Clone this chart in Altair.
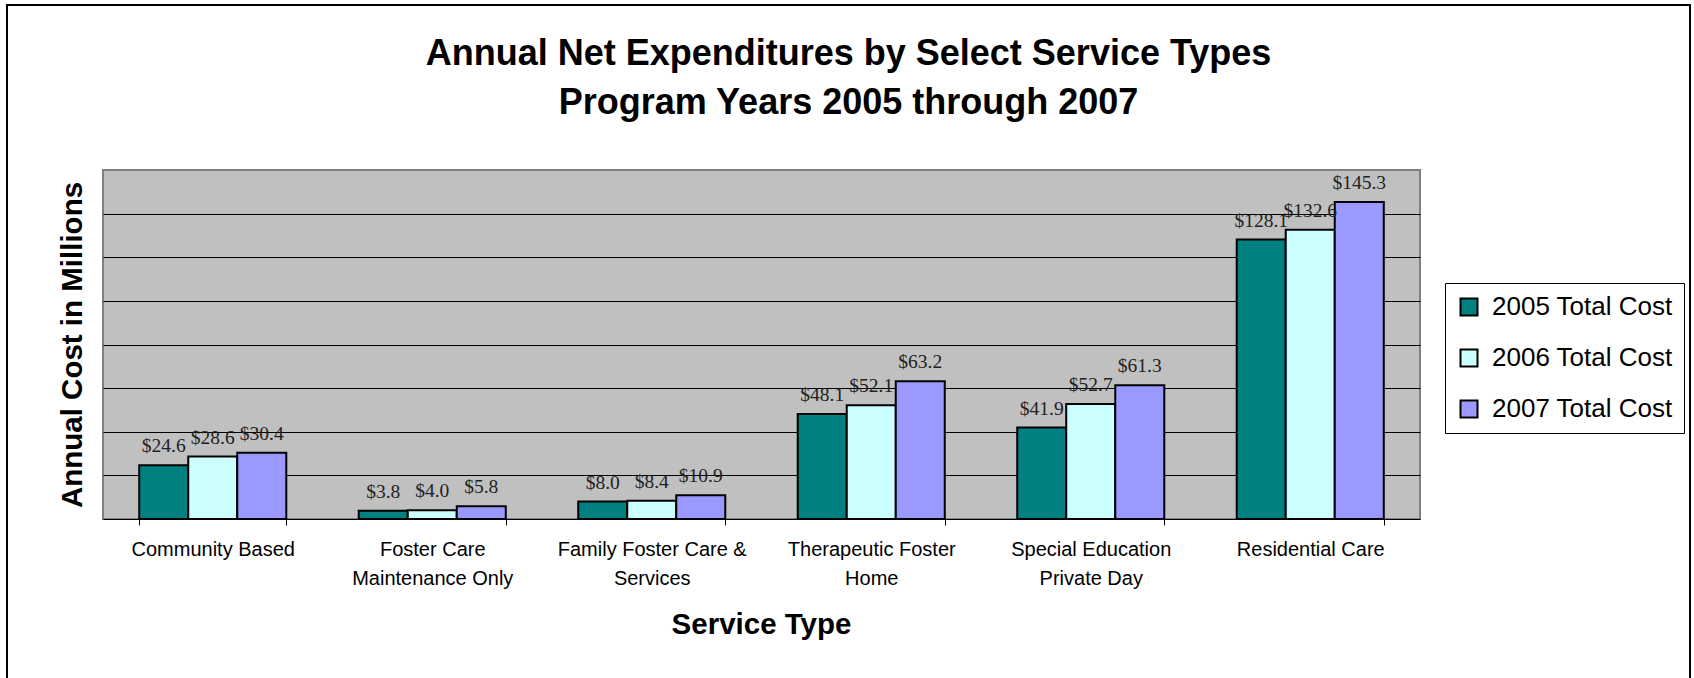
import altair as alt
import pandas as pd

categories = [
    "Community Based",
    "Foster Care|Maintenance Only",
    "Family Foster Care &|Services",
    "Therapeutic Foster|Home",
    "Special Education|Private Day",
    "Residential Care",
]
series_names = ["2005 Total Cost", "2006 Total Cost", "2007 Total Cost"]
values_2005 = [24.6, 3.8, 8.0, 48.1, 41.9, 128.1]
values_2006 = [28.6, 4.0, 8.4, 52.1, 52.7, 132.6]
values_2007 = [30.4, 5.8, 10.9, 63.2, 61.3, 145.3]
colors = ["#008080", "#CCFFFF", "#9999FF"]
grid_values = [20, 40, 60, 80, 100, 120, 140]

rows = []
for s, vals in zip(series_names, [values_2005, values_2006, values_2007]):
    for c, v in zip(categories, vals):
        rows.append({"category": c, "series": s, "value": v})
df = pd.DataFrame(rows)

SANS = "Liberation Sans"

x_enc = alt.X(
    "category:N",
    sort=categories,
    scale=alt.Scale(paddingInner=0.33, paddingOuter=0.165),
    title="Service Type",
    axis=alt.Axis(
        labelAngle=0,
        labelExpr="split(datum.label, '|')",
        labelFont=SANS,
        labelFontSize=20,
        labelColor="black",
        labelLineHeight=29,
        labelBaseline="top",
        labelPadding=14,
        labelLimit=0,
        tickBand="extent",
        tickColor="black",
        tickSize=6,
        domainColor="black",
        domainWidth=1,
        grid=False,
        titleFont=SANS,
        titleFontSize=29.5,
        titleFontWeight="bold",
        titleColor="black",
        titleX=658,
        titleY=105,
        titleAlign="center",
        titleBaseline="middle",
    ),
)
xoff = alt.XOffset("series:N", sort=series_names)
y_enc = alt.Y(
    "value:Q",
    scale=alt.Scale(domain=[0, 160], nice=False),
    title="Annual Cost in Millions",
    axis=alt.Axis(
        labels=False,
        ticks=False,
        domain=False,
        grid=True,
        gridColor="black",
        gridWidth=1,
        values=grid_values,
        titleFont=SANS,
        titleFontSize=29.5,
        titleFontWeight="bold",
        titleColor="black",
        titleAngle=270,
        titleX=-31,
        titleY=174.5,
        titleAlign="center",
        titleBaseline="middle",
    ),
)

base = alt.Chart(df)

bars = base.mark_bar(stroke="black", strokeWidth=2).encode(
    x=x_enc,
    xOffset=xoff,
    y=y_enc,
    color=alt.Color(
        "series:N",
        sort=series_names,
        scale=alt.Scale(domain=series_names, range=colors),
        legend=alt.Legend(
            title=None,
            orient="none",
            legendX=1342,
            legendY=113,
            strokeColor="black",
            fillColor="white",
            padding=11,
            symbolType="square",
            symbolSize=289,
            symbolStrokeColor="black",
            symbolStrokeWidth=2,
            symbolOpacity=1,
            labelFont=SANS,
            labelFontSize=26,
            labelColor="black",
            labelOffset=10,
            labelLimit=0,
            rowPadding=25,
        ),
    ),
)

labels = base.transform_calculate(
    label="'$' + format(datum.value, '.1f')"
).mark_text(
    font="Liberation Serif", fontSize=19.5, baseline="bottom", dy=-9, color="#222222"
).encode(
    x=alt.X("category:N", sort=categories),
    xOffset=xoff,
    y=alt.Y("value:Q"),
    text="label:N",
)

border = alt.Chart(pd.DataFrame({"a": [0]})).mark_rect(
    fillOpacity=0, stroke="black", strokeWidth=2
).encode(
    x=alt.value(-96), x2=alt.value(1587), y=alt.value(-165), y2=alt.value(520)
)

chart = alt.layer(border, bars, labels).properties(
    width=1317,
    height=349,
    background="white",
    padding={"left": 103, "top": 170, "right": 274, "bottom": 159},
    autosize=alt.AutoSizeParams(type="none"),
    title=alt.TitleParams(
        text=[
            "Annual Net Expenditures by Select Service Types",
            "Program Years 2005 through 2007",
        ],
        font=SANS,
        fontSize=36,
        fontWeight="bold",
        color="black",
        anchor="middle",
        frame="bounds",
        offset=-118,
        lineHeight=49,
    ),
).configure_view(
    fill="#C0C0C0", stroke="#808080", strokeWidth=2
)

chart.save("out.html", embed_options={"renderer": "svg", "actions": False})
